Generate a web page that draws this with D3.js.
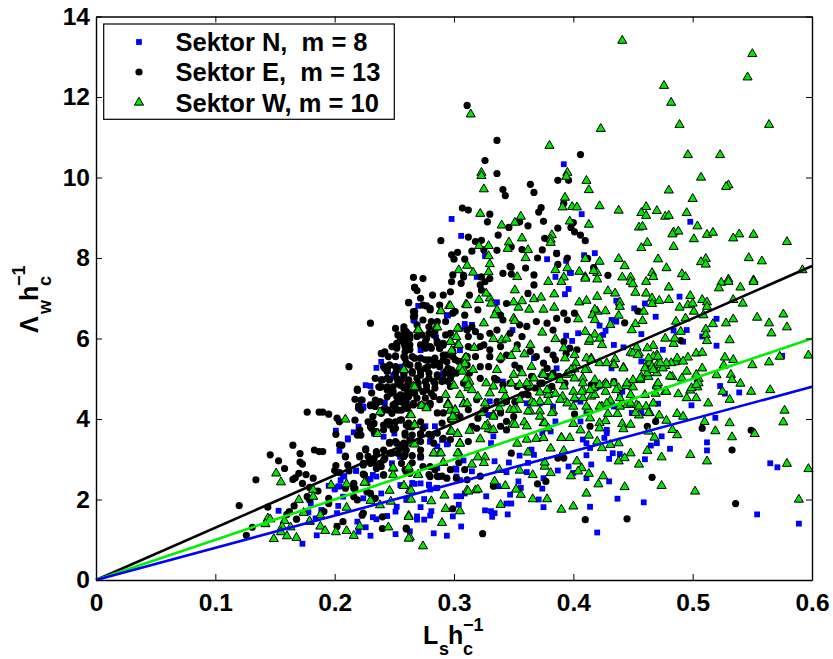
<!DOCTYPE html>
<html>
<head>
<meta charset="utf-8">
<script src="https://cdn.jsdelivr.net/npm/d3@7"></script>
<style>
body { margin: 0; background: #fff; }
text { font-family: "Liberation Sans", Arial, sans-serif; font-weight: bold; fill: #000; }
.axis path, .axis line { stroke: #000; }
.axis path { stroke-width: 1.4; }
.axis line { stroke-width: 1; }
</style>
</head>
<body>
<svg id="chart" width="833" height="659"></svg>
<script>
// values, [Ls/hc, Lambda_w/hc]
var sektorN = [[.397,7.63],[.385,7.53],[.396,7.23],[.393,7.10],[.362,7.12],[.489,7.04],[.436,6.94],[.438,6.83],[.451,6.75],[.460,6.87],
[.456,6.67],[.469,6.54],[.432,6.46],[.436,6.42],[.422,6.32],[.427,6.19],[.425,6.09],[.394,6.07],[.399,5.94],[.404,6.13],
[.349,6.21],[.330,5.55],[.309,6.36],[.315,6.34],[.295,6.57],[.266,6.46],[.336,6.90],[.520,6.49],[.495,6.21],[.484,6.20],
[.508,6.05],[.492,5.92],[.520,5.82],[.475,5.72],[.442,5.78],[.434,5.84],[.457,6.11],[.457,5.43],[.432,5.26],[.575,5.57],
[.523,4.82],[.527,4.63],[.539,4.66],[.499,4.34],[.471,4.38],[.441,4.68],[.439,4.56],[.519,4.03],[.457,4.15],[.449,4.15],
[.428,3.73],[.428,3.65],[.426,3.53],[.406,3.94],[.402,4.48],[.386,5.26],[.383,4.31],[.381,3.69],[.374,3.65],[.385,3.94],
[.474,3.57],[.470,3.40],[.465,3.34],[.481,3.26],[.512,3.42],[.512,3.22],[.460,3.00],[.439,3.13],[.433,3.15],[.430,3.01],
[.414,3.28],[.411,3.40],[.408,3.49],[.411,3.10],[.415,2.87],[.396,2.82],[.387,2.72],[.400,2.66],[.411,2.53],[.430,2.45],
[.375,2.53],[.374,2.27],[.361,2.68],[.354,2.45],[.356,2.29],[.344,2.68],[.337,2.33],[.334,2.95],[.346,2.92],[.355,3.09],
[.365,3.24],[.362,2.91],[.367,3.11],[.331,3.40],[.333,3.57],[.344,3.72],[.308,2.97],[.315,2.70],[.302,2.74],[.286,3.32],
[.280,3.44],[.295,3.39],[.272,3.07],[.286,2.78],[.265,2.41],[.279,2.37],[.280,2.25],[.286,2.29],[.302,2.08],[.306,2.08],
[.309,2.15],[.327,2.08],[.347,2.12],[.344,1.90],[.348,1.90],[.371,2.00],[.375,1.81],[.414,1.82],[.437,2.02],[.459,1.93],
[.554,1.63],[.589,1.40],[.565,2.90],[.571,2.80],[.420,1.18],[.345,1.63],[.334,1.66],[.332,1.57],[.326,1.73],[.331,1.71],
[.304,1.87],[.299,1.58],[.306,1.33],[.294,1.10],[.283,1.16],[.281,1.71],[.280,1.60],[.275,1.50],[.269,1.50],[.272,1.81],
[.275,2.01],[.263,1.21],[.269,1.58],[.392,10.33],[.407,9.09],[.298,8.97],[.306,8.55],[.498,8.90],[.418,8.12],[.409,8.07],
[.386,8.13],[.378,7.97],[.394,7.93],[.398,7.63],[.326,8.05],[.319,7.53],[.153,1.72],[.173,.90],[.185,1.11],[.230,1.10],
[.251,1.14],[.204,3.21],[.211,3.49],[.201,3.71],[.220,3.81],[.224,4.31],[.203,1.84],[.207,2.07],[.224,2.03],[.232,1.56],
[.235,1.51],[.244,1.59],[.226,1.31],[.219,1.45],[.220,1.20],[.202,1.34],[.184,1.53],[.202,1.66],[.189,1.74],[.235,2.57],
[.230,2.51],[.205,2.48],[.207,2.58],[.200,2.25],[.204,2.33],[.218,2.72],[.239,2.15],[.248,2.90],[.252,1.82],[.251,1.70],
[.255,2.36],[.260,1.99],[.255,3.06],[.233,3.64],[.241,3.56],[.255,3.97],[.250,3.64],[.239,5.42],[.235,5.27],[.226,4.84],
[.230,4.82],[.242,4.41],[.224,4.28],[.249,5.09],[.256,5.30],[.195,2.34],[.200,2.28],[.203,2.32],[.178,1.68],[.189,1.70],
[.180,1.90],[.330,4.44],[.329,4.10],[.341,4.93],[.291,5.14],[.284,3.82],[.276,3.82],[.361,4.39],[.372,4.39],[.367,5.51],
[.411,4.15],[.434,4.31],[.422,4.81],[.434,4.93],[.406,4.43],[.270,6.81],[.267,6.44],[.294,6.58],[.285,6.03],[.272,5.71],
[.309,6.29],[.291,5.12],[.305,5.71],[.300,5.14],[.211,3.52],[.216,3.67],[.280,3.44],[.290,3.48],[.294,3.37],[.272,3.04],
[.255,3.07],[.301,2.77],[.232,2.61],[.228,2.49],[.218,2.71],[.208,2.57],[.279,2.36],[.272,2.40],[.267,2.39],[.305,2.48],
[.285,2.28],[.302,2.57]];

var sektorE = [[.120,1.85],[.134,2.49],[.144,1.81],[.126,1.11],[.131,1.31],[.146,3.11],[.153,2.96],[.158,2.77],[.165,3.35],[.171,3.14],
[.171,2.93],[.173,2.88],[.170,2.65],[.176,2.62],[.165,2.50],[.167,2.54],[.173,2.40],[.182,2.53],[.179,2.30],[.186,2.21],
[.177,2.07],[.179,1.99],[.166,1.84],[.162,1.70],[.160,1.63],[.168,1.51],[.177,4.17],[.187,4.17],[.190,4.17],[.195,4.12],
[.202,4.02],[.204,3.93],[.201,3.62],[.217,3.97],[.220,4.31],[.222,4.22],[.219,3.60],[.222,3.60],[.204,3.36],[.183,3.23],
[.187,3.19],[.190,3.19],[.209,3.06],[.201,2.84],[.200,2.72],[.204,2.67],[.211,2.86],[.212,2.71],[.226,3.23],[.221,3.06],
[.224,2.90],[.230,2.90],[.225,2.61],[.235,3.15],[.233,3.02],[.238,2.90],[.242,3.02],[.248,3.15],[.255,3.27],[.258,3.10],
[.241,2.61],[.256,2.90],[.260,2.69],[.235,2.77],[.246,3.40],[.252,3.40],[.259,3.35],[.230,4.35],[.235,4.39],[.233,3.89],
[.230,3.81],[.233,3.69],[.241,3.85],[.246,3.93],[.249,3.73],[.255,3.97],[.262,3.81],[.256,4.22],[.248,4.14],[.241,4.22],
[.261,4.31],[.216,2.40],[.209,2.28],[.195,2.03],[.195,1.90],[.191,1.70],[.207,1.45],[.202,1.33],[.227,2.19],[.230,2.15],
[.234,2.03],[.224,1.66],[.223,1.61],[.240,1.57],[.240,1.28],[.260,1.27],[.217,2.28],[.216,2.07],[.219,1.99],
[.262,6.89],[.230,6.38],[.212,5.30],[.251,6.25],[.258,6.29],[.260,6.17],[.255,5.96],[.248,5.80],[.252,5.80],[.259,5.80],
[.240,5.62],[.242,5.67],[.245,5.55],[.251,5.57],[.258,5.55],[.260,5.38],[.242,5.26],[.246,5.34],[.251,5.30],[.244,5.22],
[.234,5.01],[.240,4.97],[.244,5.01],[.252,5.01],[.258,5.09],[.238,4.79],[.237,4.80],[.249,4.80],[.255,4.84],[.261,4.84],
[.219,4.71],[.231,4.65],[.247,4.64],[.244,4.55],[.252,4.55],[.261,4.64],[.217,4.49],[.222,4.47],[.234,4.47],[.238,4.43],
[.251,4.39],[.258,4.43],[.220,4.32],[.230,4.33],[.234,4.31],[.242,4.27],[.251,4.27],[.261,4.27],
[.336,10.92],[.326,10.42],[.336,10.10],[.341,9.70],[.343,9.55],[.307,9.24],[.312,9.19],[.330,9.09],[.328,8.90],[.346,8.76],
[.337,8.57],[.312,8.52],[.289,8.43],[.318,8.41],[.323,8.44],[.325,8.20],[.315,8.17],[.303,8.14],[.298,8.08],[.300,7.97],
[.309,7.97],[.336,8.19],[.347,7.79],[.311,11.79],[.406,10.57],[.387,9.93],[.396,9.93],[.364,9.83],[.367,9.63],[.373,9.25],
[.371,9.14],[.375,8.91],[.392,9.36],[.362,8.80],[.355,8.90],[.387,8.74],[.398,8.76],[.400,8.88],[.401,8.65],[.406,8.57],
[.410,8.43],[.376,8.49],[.348,8.28],[.357,8.21],[.374,8.20],[.386,8.11],[.370,8.00],[.395,8.00],[.412,7.99],[.348,7.77],
[.360,7.75],[.387,7.84],[.341,7.62],[.348,7.60],[.367,7.58],[.417,7.76],[.429,7.57],[.299,7.58],[.308,7.57],[.323,7.53],
[.330,7.49],[.266,7.52],[.274,7.49],[.267,7.27],[.269,7.19],[.272,7.00],[.262,6.90],[.282,7.08],[.291,7.08],[.297,7.16],
[.298,7.41],[.306,7.37],[.308,7.53],[.313,7.08],[.288,6.83],[.280,6.75],[.274,6.83],[.267,6.67],[.266,6.54],[.274,6.46],
[.281,6.42],[.299,6.63],[.309,6.58],[.320,6.71],[.322,7.33],[.326,7.41],[.323,7.20],[.367,7.33],[.362,7.12],[.344,6.87],
[.339,6.58],[.341,6.46],[.361,6.30],[.355,6.34],[.347,6.13],[.357,6.05],[.369,6.42],[.392,6.63],[.395,6.46],[.386,6.50],
[.401,6.63],[.383,6.21],[.378,6.38],[.403,5.72],[.394,5.63],[.385,5.47],[.375,5.39],[.365,5.06],[.355,5.26],[.347,4.89],
[.372,4.89],[.382,4.81],[.388,5.06],[.393,4.89],[.415,4.85],[.420,4.81],[.427,4.89],[.434,4.93],[.443,6.39],[.454,6.68],
[.490,5.95],[.401,4.12],[.414,3.82],[.462,3.82],[.469,3.94],[.508,3.77],[.549,3.72],[.348,3.15],[.387,3.03],[.392,3.03],
[.533,3.23],[.466,2.55],[.377,2.45],[.370,2.39],[.333,2.33],[.536,1.90],[.410,1.50],[.445,1.52],[.324,1.15],[.299,1.77],
[.260,1.29],[.258,6.21],[.263,6.09],[.259,5.96],[.269,6.05],[.277,6.00],[.283,6.09],[.272,5.84],[.280,5.80],[.263,5.72],
[.288,5.76],[.267,5.51],[.276,5.47],[.283,5.47],[.291,5.47],[.299,5.55],[.260,5.39],[.270,5.34],[.278,5.30],[.288,5.30],
[.295,5.26],[.258,5.18],[.265,5.18],[.272,5.18],[.279,5.14],[.286,5.10],[.293,5.14],[.298,5.10],[.256,4.97],[.262,4.97],
[.269,5.01],[.276,4.93],[.283,4.93],[.290,4.93],[.295,4.93],[.258,4.77],[.263,4.72],[.270,4.77],[.277,4.72],[.284,4.77],
[.297,4.81],[.256,4.56],[.262,4.56],[.269,4.52],[.276,4.52],[.283,4.56],[.288,4.48],[.258,4.39],[.266,4.35],[.273,4.35],
[.280,4.39],[.297,6.13],[.315,6.29],[.311,6.21],[.322,6.05],[.330,6.13],[.312,5.80],[.322,5.80],[.330,5.72],[.311,5.55],
[.322,5.30],[.302,5.14],[.313,5.14],[.322,5.01],[.308,4.89],[.336,6.21],[.336,4.97],[.341,4.85],[.353,4.81],[.361,4.81],
[.378,5.06],[.383,5.14],[.312,3.44],[.319,3.77],[.315,3.82],[.344,3.94],[.339,4.15],[.320,4.02],[.286,3.65],[.272,3.61],
[.281,3.57],[.274,3.77],[.259,3.65],[.258,3.40],[.263,3.49],[.262,3.90],[.286,4.15],[.290,3.90],[.297,3.49],[.283,3.40],
[.272,3.07],[.280,2.82],[.286,2.58],[.290,2.58],[.284,2.74],[.297,2.74],[.302,2.53],[.309,2.74],[.304,2.91],[.311,2.49],
[.322,2.58],[.259,2.74],[.265,2.91],[.258,3.07],[.279,2.62],[.274,2.82],[.350,4.06],
[.267,7.27],[.277,6.81],[.280,6.71],[.266,6.67],[.267,6.56],[.293,6.42],[.286,6.42],[.301,6.67],[.253,6.09],[.258,6.09],
[.263,6.00],[.262,6.09],[.269,6.34],[.279,6.29],[.279,6.13],[.273,6.09],[.284,6.17],[.258,5.88],[.252,5.88],[.263,5.84],
[.252,5.76],[.259,5.67],[.276,5.76],[.281,5.76],[.276,5.92],[.286,5.88],[.293,6.09],[.291,5.88],[.288,5.76],[.239,5.63],
[.251,5.55],[.259,5.51],[.265,5.55],[.272,5.51],[.279,5.47],[.284,5.51],[.291,5.59],[.297,5.59],[.241,5.30],[.246,5.34],
[.252,5.26],[.263,5.34],[.270,5.30],[.276,5.26],[.283,5.34],[.288,5.38],[.294,5.42],[.301,5.47],[.244,5.18],[.251,5.14],
[.258,5.14],[.265,5.14],[.272,5.09],[.279,5.01],[.286,5.05],[.293,5.18],[.298,5.22],[.239,4.97],[.246,4.97],[.253,4.89],
[.262,4.93],[.270,4.89],[.277,4.82],[.284,4.89],[.291,4.97],[.297,5.01],[.244,4.80],[.219,4.74],[.223,4.47],[.220,4.27],
[.239,4.80],[.232,4.06],[.239,4.14],[.245,4.22],[.249,4.35],[.253,4.22],[.259,4.27],[.266,4.39],[.255,4.60],[.260,4.60],
[.267,4.64],[.274,4.68],[.281,4.64],[.249,4.68],[.244,4.72],[.272,4.35],[.280,4.35],[.260,4.43],[.255,4.43],[.228,3.93],
[.231,3.77],[.235,3.69],[.241,3.73],[.244,3.93],[.221,3.73],[.246,3.85],[.251,3.93],[.256,3.98],[.260,3.85],[.265,3.81],
[.272,3.93],[.251,3.77],[.259,3.60],[.265,3.60],[.272,3.64],[.279,3.62],[.251,3.44],[.246,3.42],[.255,3.35],[.260,3.23],
[.272,3.44],[.291,3.52],[.226,3.26],[.235,3.19],[.241,3.23],[.246,3.15],[.253,3.15],[.259,3.11],[.265,3.09],[.272,3.23],
[.221,3.09],[.228,3.07],[.209,3.08],[.232,2.98],[.241,2.98],[.224,2.86],[.239,2.82],[.235,2.86],[.224,2.63],[.241,2.61],
[.263,2.65],[.280,2.57],[.287,2.57],[.294,2.53],[.216,2.28],[.206,3.35],
[.286,5.92],[.291,5.84],[.299,5.68],[.293,5.59],[.312,6.05],[.318,6.17],[.304,5.43],[.311,5.34],[.318,5.55],[.325,5.84],
[.330,5.55],[.339,5.80],[.344,5.59],[.353,5.84],[.351,5.34],[.364,5.68],[.369,5.55],[.378,5.72],[.383,5.59],[.392,5.92],
[.397,5.76],[.339,5.47],[.334,5.01],[.329,5.30],[.378,5.26],[.374,4.89],[.368,4.77],[.362,4.60],[.357,4.60],[.351,4.43],
[.344,4.43],[.336,4.43],[.326,4.23],[.319,4.48],[.312,4.23],[.305,4.06],[.297,3.98],[.291,4.15],[.330,3.73],[.339,3.82],
[.344,3.73]];

var sektorW = [[.441,13.4],[.550,13.07],[.546,12.49],[.476,12.28],[.482,11.86],[.489,11.31],[.564,11.31],[.423,11.21],[.314,11.57],[.380,10.79],
[.496,10.56],[.523,10.56],[.395,10.12],[.323,10.12],[.323,10.04],[.394,10.02],[.507,10.00],[.411,9.92],[.325,9.71],[.413,9.69],
[.530,9.81],[.528,9.77],[.480,9.68],[.500,9.47],[.393,9.50],[.391,9.26],[.399,9.27],[.403,9.26],[.422,9.29],[.438,9.18],
[.461,9.27],[.457,9.12],[.461,9.05],[.470,9.17],[.477,9.03],[.480,9.05],[.495,9.12],[.322,9.10],[.356,9.03],[.351,8.88],
[.340,8.81],[.397,8.91],[.413,8.83],[.455,8.76],[.458,8.78],[.504,8.79],[.484,8.64],[.488,8.66],[.483,8.59],[.512,8.58],
[.517,8.63],[.539,8.59],[.534,8.49],[.551,8.58],[.579,8.40],[.501,8.47],[.462,8.38],[.457,8.25],[.484,8.28],[.382,8.57],
[.381,8.46],[.381,8.38],[.357,8.49],[.346,8.39],[.345,8.23],[.321,8.30],[.329,8.30],[.362,8.20],[.329,8.05],[.360,8.00],
[.410,7.98],[.422,7.91],[.438,7.98],[.471,7.97],[.547,8.00],[.558,7.92],[.511,7.98],[.507,7.90],[.511,7.84],[.443,7.80],
[.478,7.75],[.330,7.85],[.311,7.81],[.304,7.70],[.316,7.64],[.329,7.65],[.385,7.70],[.395,7.75],[.405,7.66],[.420,7.63],
[.417,7.68],[.466,7.63],[.491,7.60],[.353,7.53],[.392,7.52],[.410,7.53],[.441,7.52],[.448,7.52],[.467,7.53],[.494,7.53],
[.592,7.70],[.530,7.47],[.551,7.45],[.379,7.41],[.390,7.41],[.410,7.49],[.420,7.47],[.448,7.41],[.450,7.35],[.461,7.41],
[.480,7.27],[.524,7.39],[.530,7.41],[.522,7.25],[.540,7.27],[.551,7.41],[.534,6.96],[.542,6.87],[.554,6.52],[.576,6.60],
[.564,6.38],[.579,6.28],[.566,6.13],[.531,5.96],[.534,6.48],[.528,6.38],[.517,6.36],[.511,6.23],[.511,6.09],[.512,5.94],
[.509,6.58],[.501,6.67],[.494,6.50],[.486,6.42],[.490,6.17],[.484,5.87],[.485,6.00],[.477,6.00],[.597,5.58],[.573,5.55],
[.564,5.41],[.550,5.34],[.534,5.47],[.527,5.53],[.526,5.33],[.520,5.09],[.532,5.10],[.533,4.97],[.540,4.88],[.549,4.68],
[.565,4.72],[.525,4.68],[.531,4.48],[.513,4.39],[.503,4.52],[.495,4.52],[.488,4.62],[.505,5.00],[.504,4.79],[.498,4.71],
[.508,5.26],[.503,5.63],[.508,5.65],[.496,5.53],[.488,5.44],[.485,5.41],[.495,5.18],[.503,5.10],[.483,5.05],[.477,5.32],
[.470,5.34],[.462,5.36],[.470,5.59],[.467,5.82],[.462,5.76],[.455,5.63],[.448,5.65],[.453,5.78],[.442,5.28],[.435,5.49],
[.434,5.36],[.422,5.39],[.415,5.51],[.393,5.51],[.402,5.39],[.392,5.76],[.364,5.84],[.352,5.74],[.339,5.53],[.348,5.57],
[.359,5.61],[.298,5.69],[.317,5.77],[.309,5.51],[.308,5.34],[.336,5.22],[.365,5.30],[.350,5.10],[.374,5.12],[.394,5.10],
[.401,5.24],[.412,5.22],[.408,5.01],[.418,4.97],[.427,4.89],[.434,4.89],[.444,4.82],[.450,4.79],[.457,5.05],[.463,5.05],
[.470,4.85],[.469,4.63],[.477,4.68],[.460,4.60],[.448,4.60],[.439,4.52],[.431,4.46],[.424,4.31],[.415,4.56],[.408,4.52],
[.400,4.68],[.391,4.56],[.379,4.60],[.372,4.66],[.364,4.83],[.355,4.48],[.347,4.23],[.353,4.23],[.364,4.19],[.372,4.19],
[.383,4.19],[.400,4.31],[.413,4.23],[.414,4.02],[.429,4.13],[.437,4.13],[.453,4.35],[.461,4.31],[.455,4.09],[.464,4.15],
[.472,4.09],[.478,3.96],[.487,4.13],[.492,4.06],[.510,3.93],[.531,3.90],[.577,4.21],[.576,3.92],[.552,3.63],[.519,3.70],
[.533,3.55],[.487,3.60],[.483,3.73],[.468,3.54],[.463,3.69],[.448,3.86],[.441,3.88],[.442,3.75],[.427,3.95],[.422,3.90],
[.422,3.77],[.413,3.59],[.406,3.72],[.397,3.53],[.390,3.54],[.400,3.88],[.375,3.90],[.359,3.92],[.349,3.87],[.328,3.86],
[.313,3.71],[.303,3.63],[.297,3.69],[.322,3.50],[.305,3.40],[.329,3.75],[.353,3.39],[.369,3.51],[.381,3.27],[.392,3.21],
[.362,3.17],[.424,3.28],[.420,3.44],[.431,3.36],[.438,3.40],[.448,3.15],[.462,3.21],[.474,3.05],[.498,3.11],[.512,2.95],
[.579,2.89],[.597,2.76],[.589,2.00],[.502,2.20],[.474,2.34],[.443,2.31],[.411,2.15],[.400,1.83],[.390,1.75],[.378,2.01],
[.366,2.01],[.356,2.12],[.352,2.25],[.343,2.34],[.334,2.45],[.318,2.23],[.311,2.23],[.320,2.25],[.339,1.87],[.305,1.71],
[.293,1.77],[.292,2.10],[.281,1.96],[.264,2.00],[.263,2.23],[.258,2.34],[.262,1.60],[.290,1.42],[.263,1.06],[.274,.84],
[.421,2.38],[.425,2.58],[.413,2.64],[.398,2.58],[.407,2.78],[.403,2.95],[.404,2.70],[.381,2.66],[.376,2.82],[.376,2.92],
[.366,2.61],[.355,2.72],[.338,2.74],[.326,3.05],[.320,3.05],[.325,2.91],[.315,2.87],[.304,3.15],[.288,3.15],[.283,3.15],
[.291,2.91],[.270,2.62],[.438,2.95],[.443,3.03],[.455,2.87],[.405,6.90],[.411,6.94],[.420,7.04],[.429,7.18],[.435,7.12],
[.452,7.14],[.461,7.12],[.466,7.00],[.472,6.94],[.480,6.96],[.498,7.06],[.496,6.83],[.489,6.77],[.500,6.87],[.508,6.96],
[.512,6.90],[.512,6.79],[.466,6.86],[.459,6.67],[.458,6.44],[.452,6.36],[.449,6.21],[.439,6.90],[.439,6.79],[.438,6.57],
[.431,6.34],[.427,6.68],[.420,6.67],[.418,6.72],[.416,6.58],[.418,6.46],[.404,6.48],[.384,6.77],[.375,6.72],[.363,6.72],
[.354,6.77],[.350,6.90],[.357,6.93],[.351,7.20],[.367,6.98],[.373,7.02],[.384,7.10],[.330,7.00],[.331,6.87],[.321,6.96],
[.327,7.12],[.310,6.85],[.296,6.81],[.289,6.69],[.336,6.71],[.334,6.58],[.350,6.50],[.325,6.38],[.304,6.25],[.285,6.28],
[.270,6.23],[.297,5.92],[.303,5.84],[.333,5.99],[.340,5.96],[.344,6.00],[.351,6.44],[.374,6.15],[.385,5.99],[.410,6.17],
[.413,5.92],[.418,6.10],[.422,6.00],[.424,5.84],[.414,5.98],[.401,5.59],[.411,5.51],[.398,5.22],[.467,5.55],[.464,5.39],
[.470,5.14],[.475,5.26],[.466,5.30],[.482,5.39],[.456,4.97],[.470,4.81],[.505,4.89],[.491,5.01],[.445,4.35],[.438,4.77],
[.427,4.68],[.417,4.77],[.408,4.72],[.418,4.60],[.408,4.89],[.389,4.97],[.392,4.81],[.379,4.72],[.355,4.85],[.343,4.56],
[.327,4.89],[.333,4.81],[.313,4.93],[.312,4.77],[.308,4.39],[.295,4.39],[.297,4.23],[.301,4.23],[.301,4.02],[.326,4.39],
[.333,4.10],[.338,4.27],[.266,4.81],[.273,4.33],[.277,4.30],[.263,4.10],[.267,3.86],[.266,3.39],[.258,5.24],[.308,5.22],
[.316,5.22],[.372,4.43],[.365,4.43],[.379,4.43],[.361,3.49],[.375,3.53],
[.209,3.99],[.238,4.17],[.236,3.63],[.151,2.65],[.155,2.43],[.182,2.24],[.182,2.07],[.197,2.36],[.170,1.99],[.210,2.38],
[.226,2.42],[.249,2.77],[.249,2.61],[.262,2.77],[.258,2.34],[.246,2.22],[.230,1.97],[.238,1.86],[.247,1.95],[.210,1.80],
[.188,1.61],[.262,1.57],[.245,1.31],[.221,1.33],[.188,1.33],[.192,1.22],[.201,1.19],[.210,1.22],[.216,1.10],[.262,1.03],
[.179,1.45],[.174,1.67],[.144,1.53],[.146,1.51],[.142,1.39],[.158,1.47],[.179,1.46],[.156,1.32],[.163,1.31],[.155,1.19],
[.160,1.09],[.149,1.02],[.168,1.05],[.270,6.21],[.286,6.28],[.289,6.68],[.297,6.81],[.311,6.83],[.303,6.25],[.302,6.04],
[.297,5.92],[.304,5.84],[.298,5.70],[.310,5.53],[.309,5.37],[.305,5.28],[.307,5.18],[.258,5.22],[.267,4.79],[.300,4.83],
[.310,4.98],[.312,4.84],[.264,4.10],[.277,4.27],[.267,3.85],[.293,4.60],[.295,4.37],[.297,4.21],[.301,4.22],[.299,4.00],
[.308,4.37],[.298,3.69],[.303,3.63],[.305,3.39],[.267,3.37],[.283,3.15],[.289,3.15],[.303,3.15],[.291,2.92],[.249,2.79],
[.262,2.80],[.270,2.61],[.225,2.42],[.264,2.22],[.312,2.20],
[.378,4.72],[.385,4.63],[.367,4.39],[.362,4.19],[.372,4.06],[.382,4.15],[.376,3.90],[.389,4.48],[.395,4.39],[.401,4.52],
[.407,4.68],[.414,4.72],[.422,4.85],[.428,4.85],[.436,4.72],[.445,4.89],[.450,4.97],[.456,5.01],[.462,5.14],[.467,5.22],
[.471,4.89],[.478,4.68],[.481,5.06],[.487,5.51],[.492,5.43],[.499,4.77],[.503,4.85],[.478,5.39],[.473,5.39],[.463,5.51],
[.460,5.26],[.471,5.55],[.450,5.63],[.454,5.59],[.442,5.26],[.434,5.34],[.428,5.39],[.415,5.47],[.410,5.22],[.401,5.01],
[.396,5.14],[.389,4.97],[.382,5.06],[.375,5.10],[.367,5.01],[.361,4.89],[.357,5.14],[.348,4.89],[.341,4.72],[.330,4.64],
[.320,4.56],[.315,4.72],[.305,4.60],[.295,4.35],[.299,4.06],[.311,4.39],[.323,4.15],[.333,4.06],[.339,4.39],[.326,3.82],
[.333,3.73],[.350,4.23],[.351,3.86],[.361,3.82],[.379,3.77],[.390,3.53],[.428,4.39],[.422,4.31],[.411,4.31],[.439,4.31],
[.448,4.39],[.452,4.15],[.455,4.31],[.463,4.15],[.467,4.39]];

// slope m of each fitted line through the origin
var lineSlopes = [13, 10, 8];
var lineColors = ["#000", "#00f000", "#0000ff"];
var xTicks = [0, 0.1, 0.2, 0.3, 0.4, 0.5, 0.6];
var yTicks = [0, 2, 4, 6, 8, 10, 12, 14];
var legendLabels = ["Sektor N,\u00a0 m = 8", "Sektor E,\u00a0 m = 13", "Sektor W, m = 10"];

var svg = d3.select("#chart");
var x = d3.scaleLinear().domain([0, 0.6]).range([96, 812]);
var y = d3.scaleLinear().domain([0, 14]).range([580, 16.5]);

var tri = d3.symbol().type(d3.symbolTriangle).size(36);
var fmtX = function (d) { return d === 0 ? "0" : d3.format(".1f")(d); };

function drawN(sel) {
    sel.attr("x", -2.9).attr("y", -2.9).attr("width", 5.8).attr("height", 5.8).attr("fill", "#0000ff");
}
function drawE(sel) {
    sel.attr("r", 3.6).attr("fill", "#000");
}
function drawW(sel) {
    sel.attr("d", tri).attr("fill", "#00e800").attr("stroke", "#000").attr("stroke-width", 1);
}

var at = function (d) { return "translate(" + x(d[0]) + "," + y(d[1]) + ")"; };
svg.append("g").selectAll("rect").data(sektorN).enter().append("rect").attr("transform", at).call(drawN);
svg.append("g").selectAll("circle").data(sektorE).enter().append("circle").attr("transform", at).call(drawE);
svg.append("g").selectAll("path").data(sektorW).enter().append("path").attr("transform", at).call(drawW);

// fitted lines
lineSlopes.forEach(function (m, i) {
    svg.append("line")
        .attr("x1", x(0)).attr("y1", y(0))
        .attr("x2", x(0.6)).attr("y2", y(m * 0.6))
        .attr("stroke", lineColors[i]).attr("stroke-width", 2.6);
});

// box and ticks
svg.append("g").attr("class", "axis").attr("transform", "translate(0,580)")
    .call(d3.axisBottom(x).tickValues(xTicks).tickFormat(fmtX).tickSizeInner(-6).tickSizeOuter(0).tickPadding(14));
svg.append("g").attr("class", "axis").attr("transform", "translate(0,16.5)")
    .call(d3.axisTop(x).tickValues(xTicks).tickFormat("").tickSizeInner(-6).tickSizeOuter(0));
svg.append("g").attr("class", "axis").attr("transform", "translate(96,0)")
    .call(d3.axisLeft(y).tickValues(yTicks).tickSizeInner(-6).tickSizeOuter(0).tickPadding(6));
svg.append("g").attr("class", "axis").attr("transform", "translate(812,0)")
    .call(d3.axisRight(y).tickValues(yTicks).tickFormat("").tickSizeInner(-6).tickSizeOuter(0));
svg.selectAll(".axis text").attr("font-size", 24.5).attr("fill", "#000")
    .style("font-family", '"Liberation Sans", Arial, sans-serif').style("font-weight", "bold");

// axis titles, base letters with a sub and superscript stacked after them
function axisTitle(g, base, sub, subDy) {
    var put = function (s, dx, dy, size) {
        g.append("text").attr("x", dx).attr("y", dy).attr("font-size", size).text(s);
    };
    put(base, 0, 0, 25);
    put(sub, base === "L" ? 16 : 19, subDy, 18);
    put("h", base === "L" ? 25 : 32, 0, 25);
    put("c", base === "L" ? 40 : 47, subDy, 18);
    put("\u22121", base === "L" ? 40 : 47, -13.5, 18);
}
axisTitle(svg.append("g").attr("transform", "translate(423,644)"), "L", "s", 10.5);
axisTitle(svg.append("g").attr("transform", "translate(38,333) rotate(-90)"), "\u039b", "w", 13);

// legend
var legend = svg.append("g");
legend.append("rect").attr("x", 103.7).attr("y", 24).attr("width", 290.6).attr("height", 95.3)
    .attr("fill", "#fff").attr("stroke", "#000").attr("stroke-width", 1.2);
legendLabels.forEach(function (s, i) {
    legend.append("text").attr("x", 175.5).attr("y", 50.7 + i * 30.5).attr("font-size", 25.5).text(s);
});
legend.append("rect").attr("transform", "translate(139,42)").call(drawN);
legend.append("circle").attr("transform", "translate(139,72)").call(drawE);
legend.append("path").attr("transform", "translate(139,102.5)").call(drawW);
</script>
</body>
</html>
